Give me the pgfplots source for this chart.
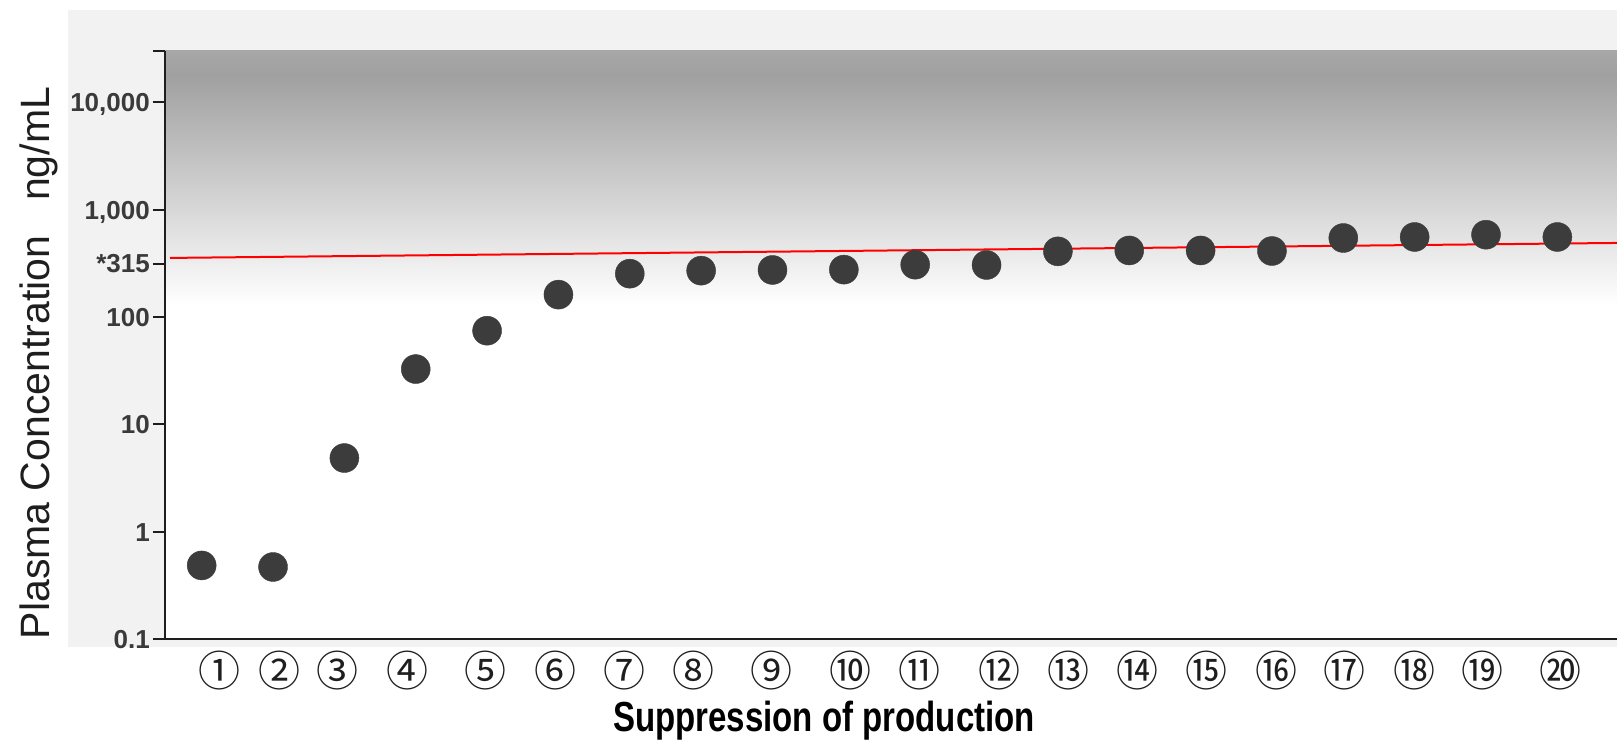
\documentclass[border=0pt]{standalone}
\usepackage{fontspec}
\setmainfont{Liberation Sans}
\newfontfamily\cjk{Noto Sans CJK JP}
\usepackage{graphicx}
\usepackage{pgfplots}
\pgfplotsset{compat=1.18}
\definecolor{bggray}{HTML}{F2F2F2}
\definecolor{gtopA}{HTML}{A7A7A7}
\definecolor{gtop}{HTML}{A0A0A0}
\definecolor{dotc}{HTML}{3C3C3C}
\definecolor{axc}{HTML}{1E1E1E}
\definecolor{lblc}{HTML}{3A3A3A}
\begin{document}
\begin{tikzpicture}[x=1pt,y=1pt]
\useasboundingbox (0,0) rectangle (1617,740);
\fill[white] (0,0) rectangle (1617,740);
\fill[bggray] (68,93) rectangle (1617,729.5);
\fill[white] (165,101) rectangle (1617,689);
\shade[top color=gtopA, bottom color=gtop] (165,665) rectangle (1617,689.3);
\shade[top color=gtop, bottom color=white] (165,435) rectangle (1617,665.5);
\begin{axis}[
  at={(165pt,101pt)}, anchor=south west,
  scale only axis, width=1452pt, height=587.7pt,
  ymode=log, ymin=0.1, ymax=30000,
  xmin=0.486, xmax=20.836,
  axis x line*=bottom, axis y line*=left,
  axis line style={axc, line width=2.5pt, -},
  tick align=outside,
  major tick length=12pt, minor tick length=8pt,
  tick style={axc, line width=2pt},
  xtick=\empty,
  minor xtick={1.5,2.5,...,20.5},
  ytick={0.1,1,10,100,315,1000,10000,30000},
  yticklabels={0.1,1,10,100,*315,{1,000},{10,000},{}},
  minor y tick num=0,
  yticklabel style={font=\bfseries\fontsize{26}{26}\selectfont, text=lblc, inner sep=0pt, anchor=base east, yshift=-9.3pt, xshift=-3pt},
  extra x ticks={1.256,2.090,2.903,3.886,4.980,5.952,6.919,7.897,8.993,10.100,11.066,12.183,13.142,14.109,15.076,16.057,17.018,17.991,18.952,20.048},
  extra x tick labels={{①},{②},{③},{④},{⑤},{⑥},{⑦},{⑧},{⑨},{⑩},{⑪},{⑫},{⑬},{⑭},{⑮},{⑯},{⑰},{⑱},{⑲},{⑳}},
  extra x tick style={tick style={draw=none}, xticklabel style={font=\cjk\fontsize{42}{42}\selectfont, text=axc, inner sep=0pt, anchor=north}},
]
\addplot[only marks, mark=*, mark size=14.5pt, color=dotc, mark options={draw=none, fill=dotc}] coordinates {
(1,0.485) (2,0.469) (3,4.86) (4,32.8) (5,74.7) (6,162) (7,254) (8,271) (9,275) (10,277)
(11,308) (12,306) (13,410) (14,418) (15,418) (16,413) (17,546) (18,558) (19,586) (20,558)
};
\addplot[red, line width=2pt, no marks] coordinates {(0.556,356) (20.836,491)};
\end{axis}
\node[rotate=90, anchor=base, text=axc, font=\fontsize{41}{41}\selectfont, inner sep=0pt] at (50,377) {Plasma Concentration\hspace{35pt}ng/mL};
\node[anchor=base, text=black, inner sep=0pt] at (824,8.3) {\scalebox{0.786}[1]{\bfseries\fontsize{42}{42}\selectfont Suppression of production}};
\end{tikzpicture}
\end{document}
